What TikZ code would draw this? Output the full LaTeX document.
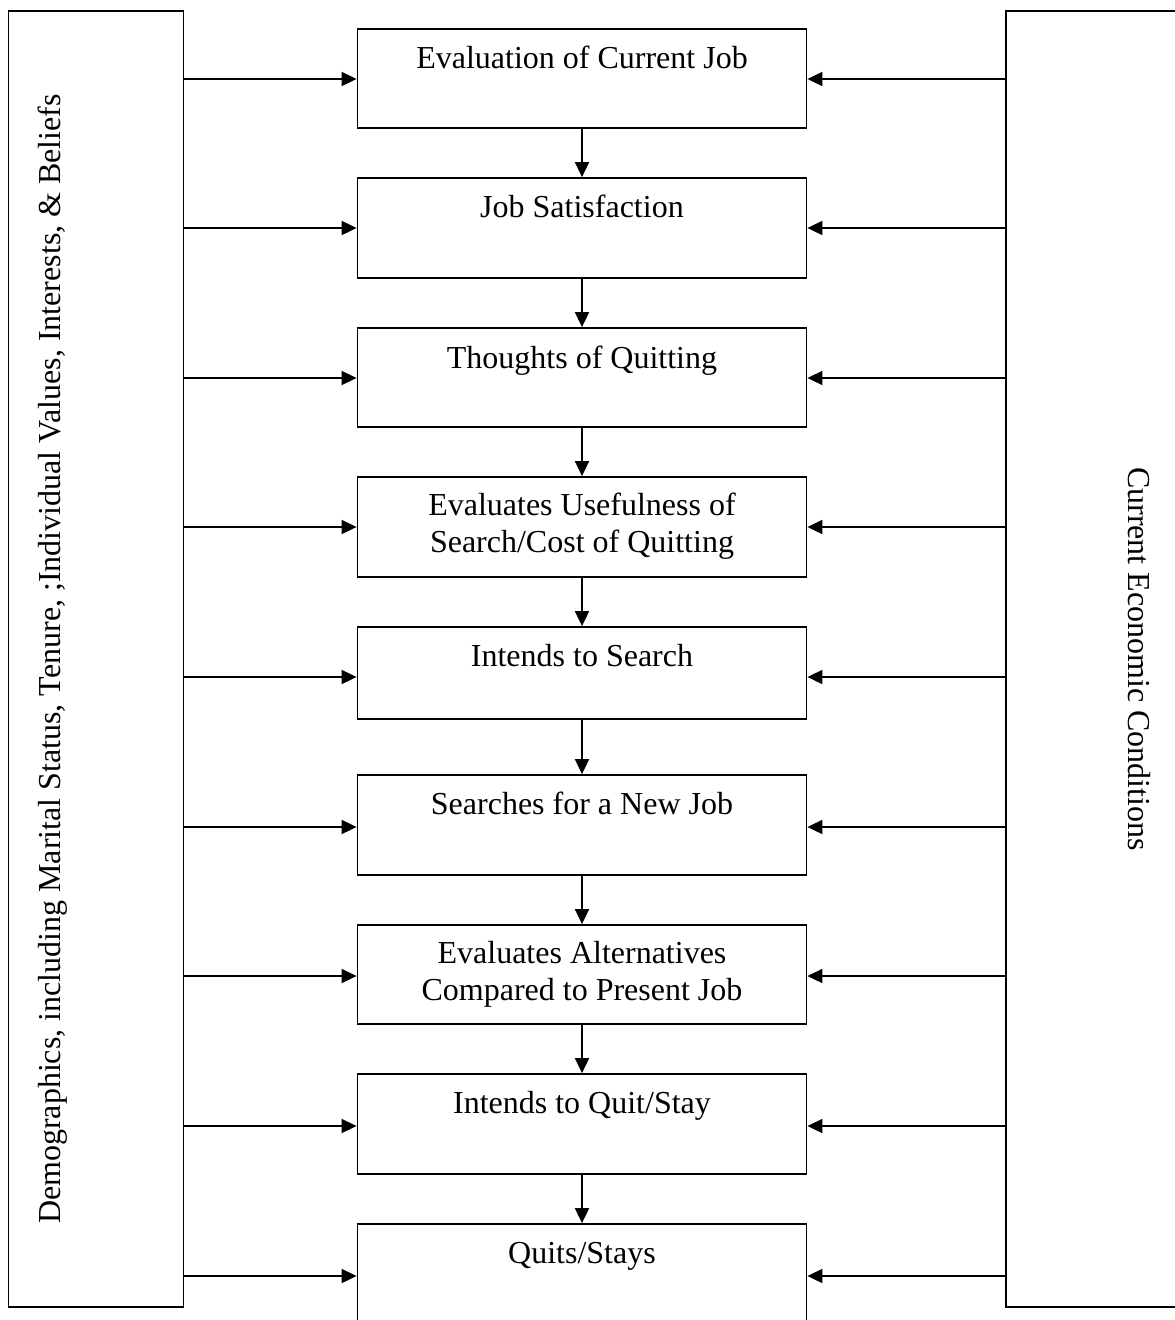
\documentclass[tikz,border=0pt]{standalone}
\usepackage{fontspec}
\setmainfont{Liberation Serif}
\usetikzlibrary{arrows.meta,calc}
\begin{document}
\begin{tikzpicture}[x=1pt,y=-1pt,
  line width=1.8pt,
  stepbox/.style={draw, rectangle, minimum width=449pt, inner sep=0pt},
  sidebox/.style={draw, rectangle, inner sep=0pt},
  lbl/.style={font=\fontsize{32}{37}\selectfont, align=center, anchor=base, inner sep=0pt},
  sidelbl/.style={font=\fontsize{32}{37}\selectfont, anchor=base, inner sep=0pt},
  arr/.style={-{Triangle[length=15pt,width=14pt]}}]
\useasboundingbox (0,0) rectangle (1175,1320);
% side boxes
\node[sidebox, minimum width=175pt, minimum height=1296pt] (L) at (96,659) {};
\node[sidebox, minimum width=180pt, minimum height=1296pt] (R) at (1096,659) {};
\node[sidelbl, rotate=90] (Lt) at (60,659) {Demographics, including Marital Status, Tenure, ;Individual Values, Interests, \& Beliefs};
\node[sidelbl, rotate=-90] (Rt) at (1128,659) {Current Economic Conditions};
% step boxes
\node[stepbox, minimum height=99pt] (b1) at (582,78.5) {};
\node[stepbox, minimum height=100pt] (b2) at (582,228) {};
\node[stepbox, minimum height=99pt] (b3) at (582,377.5) {};
\node[stepbox, minimum height=100pt] (b4) at (582,527) {};
\node[stepbox, minimum height=92pt] (b5) at (582,673) {};
\node[stepbox, minimum height=100pt] (b6) at (582,825) {};
\node[stepbox, minimum height=99pt] (b7) at (582,974.5) {};
\node[stepbox, minimum height=100pt] (b8) at (582,1124) {};
\node[stepbox, minimum height=100pt] (b9) at (582,1274) {};
% labels
\node[lbl] (t1) at ($(b1.north)+(0,40)$) {Evaluation of Current Job};
\node[lbl] (t2) at ($(b2.north)+(0,40)$) {Job Satisfaction};
\node[lbl] (t3) at ($(b3.north)+(0,41)$) {Thoughts of Quitting};
\node[lbl] (t4) at ($(b4.north)+(0,76)$) {Evaluates Usefulness of\\Search/Cost of Quitting};
\node[lbl] (t5) at ($(b5.north)+(0,40)$) {Intends to Search};
\node[lbl] (t6) at ($(b6.north)+(0,40)$) {Searches for a New Job};
\node[lbl] (t7) at ($(b7.north)+(0,76)$) {Evaluates Alternatives\\Compared to Present Job};
\node[lbl] (t8) at ($(b8.north)+(0,40)$) {Intends to Quit/Stay};
\node[lbl] (t9) at ($(b9.north)+(0,40)$) {Quits/Stays};
% vertical arrows
\foreach \a/\b in {b1/b2,b2/b3,b3/b4,b4/b5,b5/b6,b6/b7,b7/b8,b8/b9}
  \draw[arr] (\a.south) -- (\b.north);
% side arrows
\foreach \y/\b in {79/b1,228/b2,378/b3,527/b4,677/b5,827/b6,976/b7,1126/b8,1276/b9}{
  \coordinate (lp\b) at (L.east |- 0,\y);
  \coordinate (rp\b) at (R.west |- 0,\y);
  \draw[arr] (lp\b) -- (\b.west |- lp\b);
  \draw[arr] (rp\b) -- (\b.east |- rp\b);
}
\end{tikzpicture}
\end{document}
